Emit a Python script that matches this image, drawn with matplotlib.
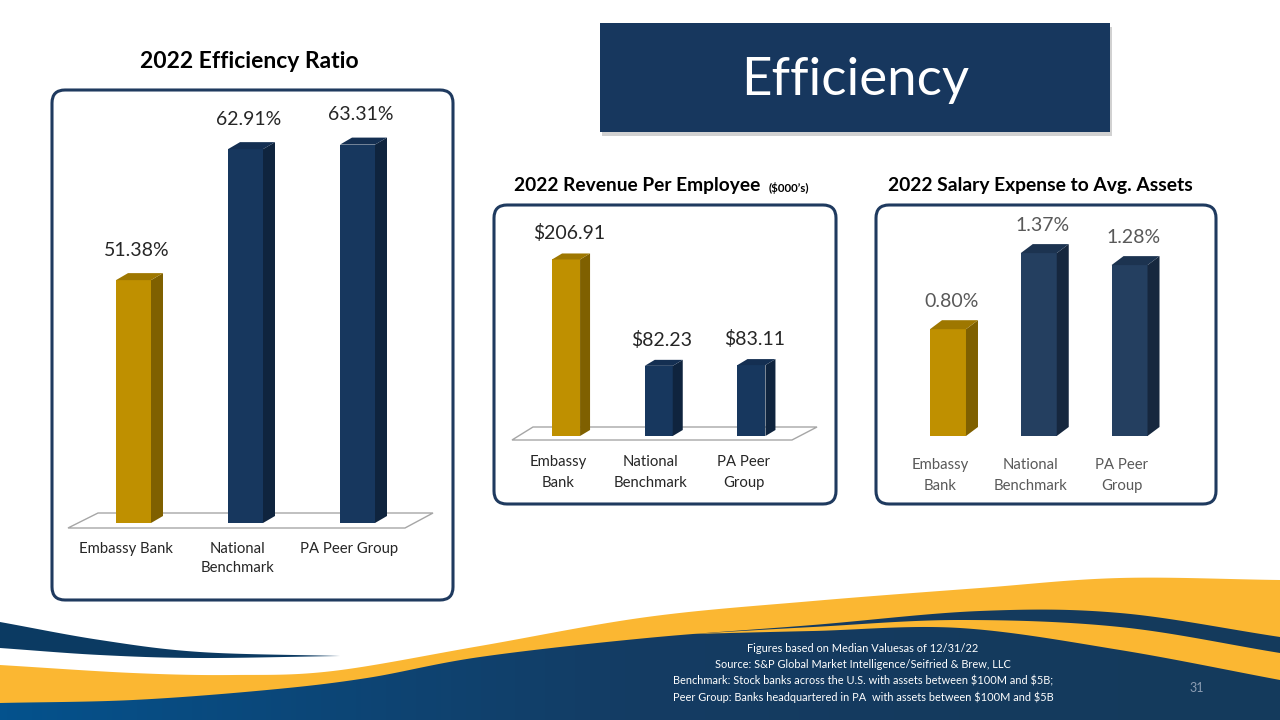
import numpy as np
import matplotlib
matplotlib.use('Agg')
import matplotlib.pyplot as plt
from matplotlib.patches import Polygon, FancyBboxPatch, Rectangle
from matplotlib.colors import LinearSegmentedColormap

plt.rcParams['font.family'] = ['Lato', 'DejaVu Sans']

# ---------------- data ----------------
categories_1 = ['Embassy Bank', 'National\nBenchmark', 'PA Peer Group']
efficiency_ratio = [51.38, 62.91, 63.31]
eff_labels = ['51.38%', '62.91%', '63.31%']

categories_2 = ['Embassy\nBank', 'National\nBenchmark', 'PA Peer\nGroup']
revenue_per_employee = [206.91, 82.23, 83.11]
rev_labels = ['$206.91', '$82.23', '$83.11']

categories_3 = ['Embassy\nBank', 'National\nBenchmark', 'PA Peer\nGroup']
salary_to_assets = [0.80, 1.37, 1.28]
sal_labels = ['0.80%', '1.37%', '1.28%']

footnotes = [
    'Figures based on Median Valuesas of 12/31/22',
    'Source: S&P Global Market Intelligence/Seifried & Brew, LLC',
    'Benchmark: Stock banks across the U.S. with assets between $100M and $5B;',
    'Peer Group: Banks headquartered in PA  with assets between $100M and $5B',
]

W, H = 1280, 720
fig = plt.figure(figsize=(12.8, 7.2), dpi=100)
fig.patch.set_facecolor('white')

bg = fig.add_axes([0, 0, 1, 1])
bg.set_xlim(0, W)
bg.set_ylim(H, 0)
bg.axis('off')
bg.set_zorder(0)


def catmull(pts, n=30):
    p = np.asarray(pts, float)
    p = np.vstack([p[0] - (p[1] - p[0]), p, p[-1] + (p[-1] - p[-2])])
    out = []
    for i in range(1, len(p) - 2):
        p0, p1, p2, p3 = p[i - 1], p[i], p[i + 1], p[i + 2]
        t = np.linspace(0, 1, n, endpoint=False)[:, None]
        seg = 0.5 * ((2 * p1) + (-p0 + p2) * t + (2 * p0 - 5 * p1 + 4 * p2 - p3) * t ** 2
                     + (-p0 + 3 * p1 - 3 * p2 + p3) * t ** 3)
        out.append(seg)
    out.append(p[-2][None, :])
    return np.vstack(out)


GOLD_W = '#FBB732'
# gold band
U = catmull([(0, 665), (133, 673), (233, 675), (333, 671), (480, 646), (647, 617),
             (813, 601), (980, 588), (1120, 578), (1280, 580)])
gold_poly = np.vstack([U, [(W, H), (0, H)]])
bg.add_patch(Polygon(gold_poly, closed=True, fc=GOLD_W, ec='none', zorder=1))

# navy main with gradient
N = catmull([(0, 703), (133, 700), (267, 690), (367, 678), (480, 657), (647, 638),
             (813, 625), (980, 611), (1120, 613), (1280, 637)])
navy_poly = Polygon(np.vstack([N, [(W, H), (0, H)]]), closed=True, fc='none', ec='none')
bg.add_patch(navy_poly)
cmap = LinearSegmentedColormap.from_list('nv', ['#04528D', '#0C4677', '#143C63', '#143A5E', '#143A5C'])
grad = np.linspace(0, 1, 256)[None, :]
im = bg.imshow(grad, cmap=cmap, extent=(0, W, H, 560), aspect='auto', zorder=2,
               interpolation='bilinear')
im.set_clip_path(navy_poly)

# inner gold stripe (right)
st_top = catmull([(690, 634), (813, 627), (960, 620), (1120, 627), (1280, 653)])
st_bot = catmull([(690, 634), (813, 631), (960, 628), (1120, 650), (1280, 680)])
bg.add_patch(Polygon(np.vstack([st_top, st_bot[::-1]]), closed=True, fc=GOLD_W, ec='none', zorder=3))

# left navy swoosh
sw_top = catmull([(0, 622), (100, 640), (200, 652), (340, 656)])
sw_bot = catmull([(0, 648), (100, 655), (200, 658), (340, 656)])
bg.add_patch(Polygon(np.vstack([sw_top, sw_bot[::-1]]), closed=True, fc='#0B3A62', ec='none', zorder=3))

# footnotes
for i, line in enumerate(footnotes):
    bg.text(863, 648 + i * 16.4, line, color='white', fontsize=7.9, ha='center', va='center',
            zorder=5, parse_math=False)
bg.text(1197, 688, '31', color='#8C9DB3', fontsize=9, ha='center', va='center', zorder=5)

# title box
bg.add_patch(Rectangle((602, 27), 510, 109, fc='#9A9A9A', ec='none', alpha=0.45, zorder=1))
bg.add_patch(Rectangle((600, 23), 510, 109, fc='#17375E', ec='none', zorder=2))
bg.text(855, 80, 'Efficiency', color='white', fontsize=38, ha='center', va='center', zorder=3)

# chart boxes
BOX_EC = '#1F3A5F'
for (x0, y0, x1, y1) in [(52, 90, 453, 600), (494, 205, 836, 504), (876, 205, 1216, 504)]:
    bg.add_patch(FancyBboxPatch((x0, y0), x1 - x0, y1 - y0,
                                boxstyle='round,pad=0,rounding_size=13',
                                fc='white', ec=BOX_EC, lw=2.2, zorder=1))

# chart titles
bg.text(249, 62, '2022 Efficiency Ratio', fontsize=16.5, fontweight='bold', color='black',
        ha='center', va='center')
bg.text(514, 186, '2022 Revenue Per Employee', fontsize=13.8, fontweight='bold', color='black',
        ha='left', va='center')
bg.text(769, 188, '($000\u2019s)', fontsize=8.3, fontweight='bold', color='black',
        ha='left', va='center')
bg.text(1040, 186, '2022 Salary Expense to Avg. Assets', fontsize=13.9, fontweight='bold',
        color='black', ha='center', va='center')


def bar_chart(box, values, labels, cats, vmin, vmax, bar_w, dxp, dyp, colors,
              label_color, cat_color, lab_off, cat_off, cat_ls, floor=None):
    x0, y0, x1, y1 = box
    ax = fig.add_axes([x0 / W, 1 - y1 / H, (x1 - x0) / W, (y1 - y0) / H])
    ax.set_zorder(2)
    ax.patch.set_alpha(0)
    ax.set_xlim(-0.5, 2.5)
    ax.set_ylim(vmin, vmax)
    ax.axis('off')
    ppx = (x1 - x0) / 3.0
    ppy = (y1 - y0) / (vmax - vmin)
    w = bar_w / ppx
    dx = dxp / ppx
    dy = dyp / ppy
    if floor is not None:
        pts = [((px - x0) / ppx - 0.5, vmin + (y1 - py) / ppy) for px, py in floor]
        ax.add_patch(Polygon(pts, closed=True, fc='white', ec='#A6A6A6', lw=1.0,
                             zorder=1, clip_on=False))
    xs = np.arange(len(values))
    for i, v in enumerate(values):
        front, side, top = colors[i]
        ax.bar(xs[i], v - vmin, bottom=vmin, width=w, color=front, zorder=3)
        r = xs[i] + w / 2
        l = xs[i] - w / 2
        ax.add_patch(Polygon([(r, vmin), (r + dx, vmin + dy), (r + dx, v + dy), (r, v)],
                             closed=True, fc=side, ec='none', zorder=3, clip_on=False))
        ax.add_patch(Polygon([(l, v), (r, v), (r + dx, v + dy), (l + dx, v + dy)],
                             closed=True, fc=top, ec='none', zorder=3, clip_on=False))
        ax.annotate(labels[i], (xs[i], v), xytext=(dxp * 0.3, lab_off), textcoords='offset pixels',
                    ha='center', va='center', fontsize=14, color=label_color,
                    annotation_clip=False)
        ax.annotate(cats[i], (xs[i], vmin), xytext=(-8, -cat_off), textcoords='offset pixels',
                    ha='center', va='top', fontsize=10.7, color=cat_color, linespacing=cat_ls,
                    annotation_clip=False)
    return ax


GOLD = ('#BF9000', '#7F6000', '#9E7700')
NAVY = ('#17375E', '#0F243E', '#142F52')
NAVY3 = ('#243F60', '#16273E', '#1C3350')

# chart 1: efficiency ratio (axis starts near 30%)
bar_chart((77.5, 68.6, 413.5, 523), efficiency_ratio, eff_labels, categories_1,
          30, 70, 35, 12, 7, [GOLD, NAVY, NAVY], '#262626', '#262626', 30, 19, 1.45,
          floor=[(68, 528), (405, 528), (433, 513), (98, 513)])

# chart 2: revenue per employee
bar_chart((519.7, 222.7, 797.8, 436), revenue_per_employee, rev_labels, categories_2,
          0, 250, 28, 10, 6, [GOLD, NAVY, NAVY], '#262626', '#262626', 26, 19, 1.6,
          floor=[(512, 440), (792, 440), (817, 427), (533, 427)])

# chart 3: salary expense to avg assets
bar_chart((902.6, 222.4, 1174.9, 436), salary_to_assets, sal_labels, categories_3,
          0, 1.6, 36, 12, 9, [GOLD, NAVY3, NAVY3], '#595959', '#595959', 28, 22, 1.6)

fig.savefig('out.png', dpi=100)
